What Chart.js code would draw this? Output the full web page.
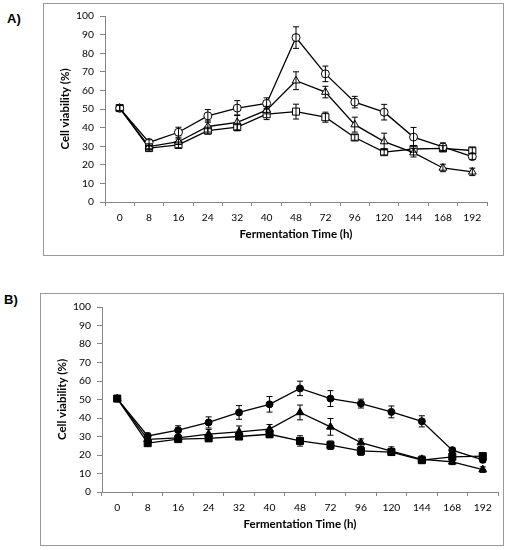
<!DOCTYPE html>
<html>
<head>
<meta charset="utf-8">
<script src="https://cdn.jsdelivr.net/npm/chart.js@4.4.1/dist/chart.umd.min.js"></script>
<style>
  html, body { margin: 0; padding: 0; background: #fff; }
  body { width: 510px; height: 550px; position: relative; overflow: hidden; }
  .frame { position: absolute; border: 1px solid #9a9a9a; box-sizing: border-box; }
  .panel { position: absolute; }
  .tag { position: absolute; font: bold 13px "Liberation Sans", Arial, sans-serif; line-height: 15px; color: #000; }
</style>
</head>
<body>
<div class="tag" style="left:7px; top:11px;">A)</div>
<div class="frame" style="left:43px; top:3px; width:461px; height:253px;"></div>
<div class="panel" style="left:43px; top:3px; width:461px; height:253px;"><canvas id="chartA"></canvas></div>

<div class="tag" style="left:4px; top:292px;">B)</div>
<div class="frame" style="left:40px; top:293px; width:464px; height:253px;"></div>
<div class="panel" style="left:40px; top:293px; width:464px; height:253px;"><canvas id="chartB"></canvas></div>

<script>
// --- data ---
const hours = ['0', '8', '16', '24', '32', '40', '48', '72', '96', '120', '144', '168', '192'];
const yTicks = [0, 10, 20, 30, 40, 50, 60, 70, 80, 90, 100];

// panel A (open markers)
const aCircle      = [50.4, 32.0, 37.5, 46.3, 50.5, 53.0, 88.4, 68.9, 53.7, 48.3, 34.9, 29.6, 24.4];
const aCircleErr   = [1.5, 1.5, 2.7, 3.4, 4.0, 3.0, 5.8, 4.2, 3.1, 4.2, 5.2, 2.2, 1.5];
const aTriangle    = [50.5, 29.8, 32.4, 40.6, 42.8, 49.4, 65.2, 59.1, 41.6, 32.5, 26.5, 18.3, 16.2];
const aTriangleErr = [1.5, 1.5, 1.5, 3.0, 4.0, 2.0, 4.8, 3.1, 4.0, 4.5, 2.3, 2.0, 2.0];
const aSquare      = [50.5, 29.0, 30.7, 38.4, 40.3, 47.2, 48.6, 45.6, 34.7, 26.8, 28.5, 28.8, 27.7];
const aSquareErr   = [1.5, 1.5, 1.5, 1.8, 2.0, 2.9, 4.0, 2.7, 1.5, 1.5, 1.7, 1.5, 1.5];

// panel B (filled markers)
const bCircle      = [50.5, 30.3, 33.4, 37.6, 43.0, 47.4, 56.0, 50.5, 47.8, 43.3, 38.2, 22.6, 17.4];
const bCircleErr   = [1.5, 1.5, 2.4, 3.0, 3.7, 4.2, 3.9, 4.3, 2.4, 3.2, 3.0, 1.5, 1.5];
const bTriangle    = [50.5, 28.5, 29.3, 31.3, 32.5, 34.0, 43.0, 35.2, 26.7, 22.1, 17.7, 16.3, 12.1];
const bTriangleErr = [1.5, 1.5, 1.5, 2.5, 3.2, 2.5, 4.0, 4.5, 2.0, 2.3, 1.8, 1.5, 1.5];
const bSquare      = [50.5, 26.4, 28.6, 29.0, 30.0, 31.2, 27.6, 25.3, 22.2, 21.6, 17.2, 19.0, 19.4];
const bSquareErr   = [1.5, 1.5, 1.5, 1.5, 1.5, 1.5, 2.8, 2.3, 2.4, 1.5, 1.5, 1.5, 1.5];

const AXIS = '#868686';
const FONT = 'Lato, "Open Sans", sans-serif';

// vertical error bars with caps, drawn over the markers
const errorBars = {
  id: 'errorBars',
  afterDatasetsDraw(chart) {
    const ctx = chart.ctx;
    const y = chart.scales.y;
    chart.data.datasets.forEach((ds, i) => {
      const meta = chart.getDatasetMeta(i);
      meta.data.forEach((pt, j) => {
        const v = ds.data[j], e = ds.errors[j];
        const top = y.getPixelForValue(v + e);
        const bot = y.getPixelForValue(v - e);
        ctx.save();
        ctx.strokeStyle = '#000';
        ctx.lineWidth = 1;
        ctx.beginPath();
        ctx.moveTo(pt.x, top); ctx.lineTo(pt.x, bot);
        ctx.moveTo(pt.x - 3, top); ctx.lineTo(pt.x + 3, top);
        ctx.moveTo(pt.x - 3, bot); ctx.lineTo(pt.x + 3, bot);
        ctx.stroke();
        ctx.restore();
      });
    });
  }
};

function series(data, errors, style, radius, fill) {
  return {
    data: data,
    errors: errors,
    borderColor: '#000',
    borderWidth: 1.3,
    pointStyle: style,
    pointRadius: radius,
    pointHoverRadius: radius,
    pointBorderWidth: 1,
    pointBorderColor: '#000',
    pointBackgroundColor: fill,
    tension: 0,
    fill: false
  };
}

function makeChart(id, datasets, padRight, padTop) {
  return new Chart(document.getElementById(id), {
    type: 'line',
    data: { labels: hours, datasets: datasets },
    options: {
      responsive: true,
      maintainAspectRatio: false,
      animation: false,
      layout: { padding: { top: padTop, right: padRight, left: 0, bottom: 0 } },
      plugins: { legend: { display: false }, tooltip: { enabled: false } },
      scales: {
        x: {
          type: 'category',
          offset: true,
          grid: { offset: true, drawOnChartArea: false, drawTicks: true, tickLength: 4, tickColor: AXIS },
          border: { color: AXIS, width: 1 },
          ticks: { color: '#000', font: { family: FONT, size: 10.3 }, padding: 5, maxRotation: 0, autoSkip: false },
          title: {
            display: true, text: 'Fermentation Time (h)', color: '#000',
            font: { family: FONT, size: 11.5, weight: 'bold' }, padding: { top: 0, bottom: 15 }
          },
          afterFit: s => { s.height = 54; }
        },
        y: {
          min: 0,
          max: 100,
          afterBuildTicks: s => { s.ticks = yTicks.map(v => ({ value: v })); },
          grid: { drawOnChartArea: false, drawTicks: true, tickLength: 5, tickColor: AXIS },
          border: { color: AXIS, width: 1 },
          ticks: { color: '#000', font: { family: FONT, size: 10.3 }, padding: 6 },
          title: {
            display: true, text: 'Cell viability (%)', color: '#000',
            font: { family: FONT, size: 11.5, weight: 'bold' }, padding: { top: 15, bottom: 0 }
          },
          afterFit: s => { s.width = 62; }
        }
      }
    },
    plugins: [errorBars]
  });
}

makeChart('chartA', [
  series(aCircle, aCircleErr, 'circle', 4, '#fff'),
  series(aTriangle, aTriangleErr, 'triangle', 4.5, '#fff'),
  series(aSquare, aSquareErr, 'rect', 5, '#fff')
], 17, 13);

makeChart('chartB', [
  series(bCircle, bCircleErr, 'circle', 3.5, '#000'),
  series(bTriangle, bTriangleErr, 'triangle', 4.5, '#000'),
  series(bSquare, bSquareErr, 'rect', 5, '#000')
], 3, 14);
</script>
</body>
</html>
